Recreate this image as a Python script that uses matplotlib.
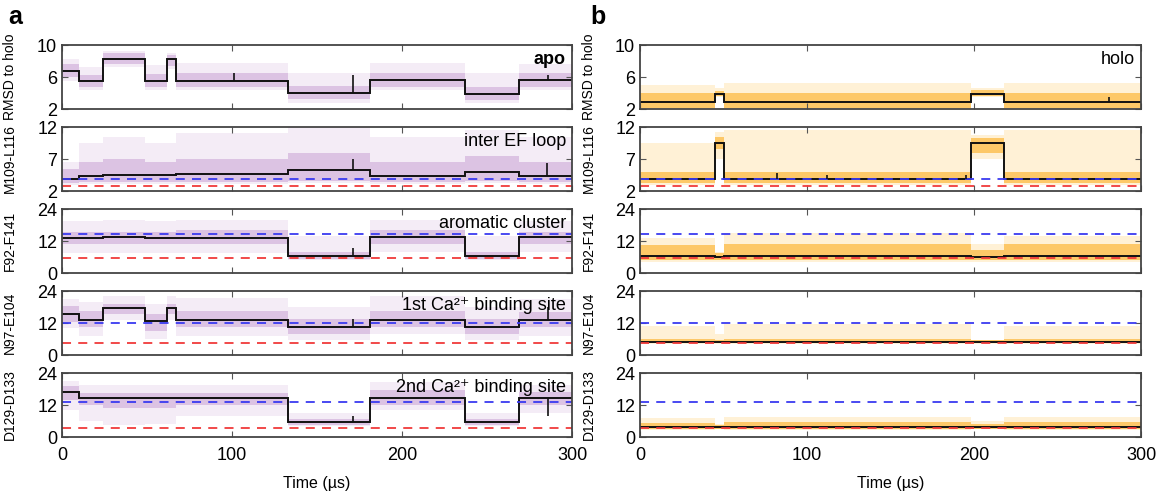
import numpy as np
import matplotlib
matplotlib.use("Agg")
from matplotlib import pyplot as plt

plt.rcParams['font.family'] = ['Liberation Sans', 'DejaVu Sans']

# ---- apo trajectory (state change times, us) ----
apo_t = [0, 10, 24, 49, 62, 67, 133, 181, 237, 269, 300]

apo_rmsd = [6.8, 5.5, 8.3, 5.5, 8.2, 5.5, 4.0, 5.6, 3.9, 5.6]
apo_rmsd_lo = [6.0, 4.8, 7.6, 4.8, 7.4, 4.8, 3.2, 4.8, 3.1, 4.8]
apo_rmsd_hi = [7.6, 6.3, 9.0, 6.4, 8.8, 6.5, 4.9, 6.5, 4.8, 6.5]
apo_rmsd_min = [5.5, 4.4, 7.2, 4.4, 7.0, 4.4, 2.8, 4.4, 2.8, 4.4]
apo_rmsd_max = [8.2, 7.2, 9.3, 7.5, 9.0, 7.8, 6.5, 7.8, 6.5, 7.6]

apo_loop = [3.8, 4.4, 4.5, 4.5, 4.5, 4.6, 5.3, 4.4, 5.0, 4.4]
apo_loop_lo = [3.3, 3.4, 3.4, 3.4, 3.4, 3.4, 3.6, 3.4, 3.5, 3.4]
apo_loop_hi = [5.5, 6.5, 7.0, 6.5, 6.5, 7.0, 8.0, 6.5, 7.5, 6.5]
apo_loop_min = [3.0, 3.1, 3.1, 3.1, 3.1, 3.1, 3.2, 3.1, 3.2, 3.1]
apo_loop_max = [6.5, 9.5, 10.5, 9.5, 9.5, 11.0, 12.0, 10.5, 11.5, 10.5]

apo_arom = [13.2, 13.2, 13.4, 13.2, 13.2, 13.2, 6.5, 13.5, 6.5, 13.5]
apo_arom_lo = [11.0, 11.0, 11.0, 11.0, 11.0, 11.0, 5.4, 11.0, 5.4, 11.0]
apo_arom_hi = [15.5, 15.5, 15.5, 15.5, 15.5, 16.0, 8.0, 16.0, 8.0, 15.5]
apo_arom_min = [7.5, 7.5, 7.5, 7.5, 7.5, 7.5, 4.8, 8.0, 4.8, 8.0]
apo_arom_max = [19.5, 19.5, 20.0, 19.5, 19.5, 20.0, 14.0, 20.0, 14.0, 19.5]

apo_ca1 = [15.5, 13.2, 17.5, 12.8, 17.5, 13.0, 10.5, 13.2, 10.5, 13.0]
apo_ca1_lo = [12.5, 10.5, 15.5, 9.0, 15.5, 10.5, 8.0, 10.5, 8.0, 10.5]
apo_ca1_hi = [18.5, 16.5, 19.0, 15.5, 19.0, 16.5, 13.5, 16.5, 13.5, 16.0]
apo_ca1_min = [10.0, 7.0, 13.0, 6.0, 13.0, 7.0, 5.5, 8.0, 5.5, 7.0]
apo_ca1_max = [21.0, 20.0, 22.0, 19.0, 22.0, 21.5, 18.0, 22.0, 18.0, 21.0]

apo_ca2 = [17.0, 14.5, 14.5, 14.5, 14.5, 14.5, 5.5, 14.5, 5.5, 14.5]
apo_ca2_lo = [14.0, 12.0, 11.0, 11.0, 11.0, 12.0, 4.6, 12.0, 4.6, 12.0]
apo_ca2_hi = [19.0, 16.5, 16.5, 16.5, 16.5, 16.5, 6.8, 17.5, 6.8, 17.0]
apo_ca2_min = [10.0, 6.0, 4.5, 5.0, 5.0, 8.0, 4.0, 10.0, 4.0, 9.0]
apo_ca2_max = [21.0, 19.5, 19.5, 19.5, 19.5, 19.5, 9.0, 20.5, 9.0, 19.5]

# ---- holo trajectory ----
holo_t = [0, 45, 50, 198, 218, 300]

holo_rmsd = [2.9, 3.9, 2.9, 3.9, 2.9]
holo_rmsd_lo = [2.1, 3.6, 2.1, 3.6, 2.1]
holo_rmsd_hi = [4.0, 4.3, 4.0, 4.4, 4.0]
holo_rmsd_min = [2.0, 3.5, 2.0, 3.5, 2.0]
holo_rmsd_max = [5.0, 4.6, 5.3, 4.6, 5.3]

holo_loop = [3.9, 9.5, 3.9, 9.5, 3.9]
holo_loop_lo = [3.2, 8.5, 3.2, 8.0, 3.2]
holo_loop_hi = [5.0, 10.5, 5.0, 10.3, 5.0]
holo_loop_min = [3.0, 7.0, 3.0, 7.0, 3.0]
holo_loop_max = [9.5, 11.2, 11.5, 10.7, 11.5]

holo_arom = [6.2, 6.0, 6.2, 6.0, 6.2]
holo_arom_lo = [4.8, 4.8, 4.8, 4.8, 4.8]
holo_arom_hi = [10.5, 7.5, 11.0, 8.5, 11.0]
holo_arom_min = [4.2, 4.2, 4.2, 4.2, 4.2]
holo_arom_max = [13.0, 8.0, 15.0, 11.0, 14.0]

holo_ca1 = [5.0, 5.0, 5.0, 5.0, 5.0]
holo_ca1_lo = [4.4, 4.4, 4.4, 4.4, 4.4]
holo_ca1_hi = [6.0, 5.8, 6.0, 5.6, 6.0]
holo_ca1_min = [4.2, 4.2, 4.2, 4.2, 4.2]
holo_ca1_max = [11.0, 8.0, 11.5, 5.8, 11.0]

holo_ca2 = [3.8, 3.8, 3.8, 3.8, 3.8]
holo_ca2_lo = [3.0, 3.0, 3.0, 3.0, 3.0]
holo_ca2_hi = [5.2, 4.5, 5.5, 5.0, 5.5]
holo_ca2_min = [2.8, 3.0, 2.8, 3.0, 2.8]
holo_ca2_max = [7.2, 5.0, 7.5, 6.0, 7.5]

# short excursions of the smoothed trace: (time, peak)
apo_spikes = [
    [(101, 6.5), (171, 6.2), (286, 6.3)],
    [(171, 7.0), (285, 6.3)],
    [(171, 9.5)],
    [(171, 13.5), (286, 18.0)],
    [(171, 8.0), (286, 8.0)],
]
holo_spikes = [
    [(281, 3.5)],
    [(82, 4.8), (112, 4.5), (195, 4.5)],
    [],
    [],
    [],
]

# reference distances
blue_ref = [None, 3.8, 14.5, 12.0, 13.0]
red_ref = [None, 2.8, 5.5, 4.5, 3.5]

ylabels = ['RMSD to holo', 'M109-L116', 'F92-F141', 'N97-E104', 'D129-D133']
ylims = [(2, 10), (2, 12), (0, 24), (0, 24), (0, 24)]
yticks = [[2, 6, 10], [2, 7, 12], [0, 12, 24], [0, 12, 24], [0, 12, 24]]
apo_notes = ['apo', 'inter EF loop', 'aromatic cluster',
             '1st Ca\u00b2\u207a binding site',
             '2nd Ca\u00b2\u207a binding site']
holo_notes = ['holo', '', '', '', '']

apo_series = [
    (apo_rmsd, apo_rmsd_lo, apo_rmsd_hi, apo_rmsd_min, apo_rmsd_max),
    (apo_loop, apo_loop_lo, apo_loop_hi, apo_loop_min, apo_loop_max),
    (apo_arom, apo_arom_lo, apo_arom_hi, apo_arom_min, apo_arom_max),
    (apo_ca1, apo_ca1_lo, apo_ca1_hi, apo_ca1_min, apo_ca1_max),
    (apo_ca2, apo_ca2_lo, apo_ca2_hi, apo_ca2_min, apo_ca2_max),
]
holo_series = [
    (holo_rmsd, holo_rmsd_lo, holo_rmsd_hi, holo_rmsd_min, holo_rmsd_max),
    (holo_loop, holo_loop_lo, holo_loop_hi, holo_loop_min, holo_loop_max),
    (holo_arom, holo_arom_lo, holo_arom_hi, holo_arom_min, holo_arom_max),
    (holo_ca1, holo_ca1_lo, holo_ca1_hi, holo_ca1_min, holo_ca1_max),
    (holo_ca2, holo_ca2_lo, holo_ca2_hi, holo_ca2_min, holo_ca2_max),
]


def draw_panel(ax, edges, series, spikes, i, core_col, outer_col, note, bold):
    mean, lo, hi, mn, mx = series
    ax.stairs(mx, edges, baseline=mn, fill=True, color=outer_col, lw=0)
    ax.stairs(hi, edges, baseline=lo, fill=True, color=core_col, lw=0)
    if blue_ref[i] is not None:
        ax.axhline(blue_ref[i], color='#3a3af0', lw=1.3, dashes=(5, 4))
        ax.axhline(red_ref[i], color='#f03a3a', lw=1.3, dashes=(5, 4))
    ax.stairs(mean, edges, baseline=None, color='#111111', lw=1.4)
    for t, peak in spikes:
        k = np.searchsorted(edges, t, side='right') - 1
        ax.vlines(t, mean[k], peak, color='#111111', lw=1.2)
    ax.set_xlim(0, 300)
    ax.set_ylim(*ylims[i])
    ax.set_yticks(yticks[i])
    ax.set_xticks([0, 100, 200, 300])
    ax.tick_params(direction='in', top=True, right=True, length=4,
                   labelsize=13, color='#555555')
    ax.tick_params(axis='x', pad=7)
    for s in ax.spines.values():
        s.set_color('#444444')
        s.set_linewidth(1.3)
    ax.set_ylabel(ylabels[i], fontsize=10)
    ax.yaxis.set_label_coords(-0.088, 0.5)
    if note:
        ax.text(0.988, 0.9, note, transform=ax.transAxes, ha='right', va='top',
                fontsize=13, fontweight='bold' if bold else 'normal')
    if i < 4:
        ax.tick_params(labelbottom=False)
    else:
        ax.set_xlabel('Time (\u00b5s)', fontsize=11.5, labelpad=9)


fig = plt.figure(figsize=(11.61, 4.91), dpi=100)
W, H = 1161, 491
tops = [45, 127, 209, 291, 373]
ph = 64
for i in range(5):
    ax_a = fig.add_axes([62 / W, 1 - (tops[i] + ph) / H, 510 / W, ph / H])
    draw_panel(ax_a, apo_t, apo_series[i], apo_spikes[i], i,
               '#dcc3e3', '#f4ecf6', apo_notes[i], i == 0)
    ax_b = fig.add_axes([640 / W, 1 - (tops[i] + ph) / H, 501 / W, ph / H])
    draw_panel(ax_b, holo_t, holo_series[i], holo_spikes[i], i,
               '#fdc868', '#fff1d6', holo_notes[i], False)

fig.text(8 / W, 1 - 24 / H, 'a', fontsize=18, fontweight='bold')
fig.text(590 / W, 1 - 24 / H, 'b', fontsize=18, fontweight='bold')

fig.savefig('out.png', dpi=100)
